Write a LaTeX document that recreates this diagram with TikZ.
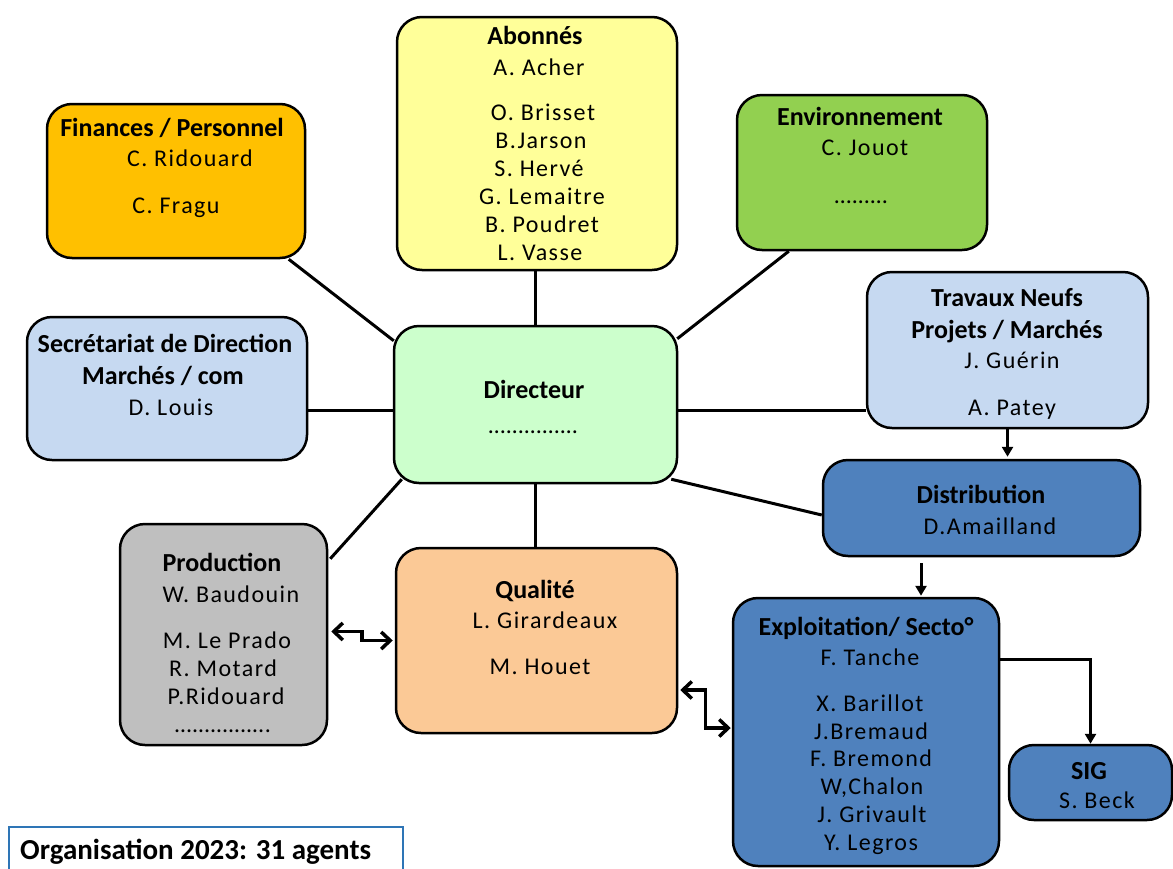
\documentclass[tikz,border=0pt]{standalone}
\usepackage{fontspec}
\setmainfont{Carlito}
\usetikzlibrary{arrows.meta,calc}
\definecolor{cOrange}{HTML}{FFC000}
\definecolor{cYellow}{HTML}{FFFF99}
\definecolor{cGreen}{HTML}{92D050}
\definecolor{cLBlue}{HTML}{C6D9F1}
\definecolor{cLGreen}{HTML}{CCFFCC}
\definecolor{cBlue}{HTML}{4F81BD}
\definecolor{cGray}{HTML}{BFBFBF}
\definecolor{cPeach}{HTML}{FBC996}
\definecolor{cOrg}{HTML}{2E75B6}
\tikzset{
  box/.style={draw=black, line width=2.5pt, rounded corners=25pt, inner sep=0pt},
  ttl/.style={font=\fontsize{26}{30}\selectfont\bfseries, text height=17pt, text depth=0pt, inner sep=0pt, anchor=center},
  nm/.style={font=\fontsize{24}{28}\selectfont\addfontfeature{LetterSpace=6}, text height=16pt, text depth=0pt, inner sep=0pt, anchor=center},
  conn/.style={line width=3pt},
  arr/.style={line width=3pt, -{Triangle[length=10pt,width=11pt]}},
  dbl/.style={line width=3.5pt, {Straight Barb[length=9pt,width=17pt]}-{Straight Barb[length=9pt,width=17pt]}},
}
\newcommand\bx[6]{\node[box,fill=#6,minimum width={#4-#2},minimum height={#5-#3}] (#1) at ({(#2+#4)/2},{(#3+#5)/2}) {};}
\begin{document}
\begin{tikzpicture}[x=1pt,y=-1pt]
\useasboundingbox (0,0) rectangle (1173,868);
\clip (0,0) rectangle (1173,868);
\fill[white] (0,0) rectangle (1173,868);
% boxes
\bx{fin}{47}{104}{305}{258}{cOrange}
\bx{abo}{397}{17}{677}{270}{cYellow}
\bx{env}{737}{95}{987}{250}{cGreen}
\bx{trav}{867}{272}{1148}{428}{cLBlue}
\bx{sec}{27}{317}{307}{460}{cLBlue}
\bx{dir}{394}{326}{677}{483}{cLGreen}
\bx{dist}{823}{460}{1140}{556}{cBlue}
\bx{prod}{120}{524}{327}{745}{cGray}
\bx{qual}{396}{548}{677}{733}{cPeach}
\bx{exp}{733}{598}{999}{866}{cBlue}
\bx{sig}{1009}{745}{1172}{820}{cBlue}
\node[draw=cOrg, line width=1.5pt, minimum width=394, minimum height=70, anchor=north west, inner sep=0pt] (org) at (8,826) {};
% texts
\node[ttl] (finT) at (172,128) {Finances / Personnel};
\node[nm] at (190,158) {C. Ridouard};
\node[nm] at (176,205) {C. Fragu};
\node[ttl] (aboT) at (535,36) {Abonnés};
\node[nm] at (539,67) {A. Acher};
\node[nm] at (543,112) {O. Brisset};
\node[nm] at (541,140) {B.Jarson};
\node[nm] at (539,168) {S. Hervé};
\node[nm] at (542,196) {G. Lemaitre};
\node[nm] at (542,224) {B. Poudret};
\node[nm] at (540,252) {L. Vasse};
\node[ttl] (envT) at (860,117) {Environnement};
\node[nm] at (865,147) {C. Jouot};
\node[nm] at (861,195) {………};
\node[ttl] (travT) at (1007,298) {Travaux Neufs};
\node[ttl] at (1007,330) {Projets / Marchés};
\node[nm] at (1012,360) {J. Guérin};
\node[nm] at (1012,407) {A. Patey};
\node[ttl] (secT) at (165,344) {Secrétariat de Direction};
\node[ttl] at (163,376) {Marchés / com};
\node[nm] at (171,407) {D. Louis};
\node[ttl] (dirT) at (534,390) {Directeur};
\node[nm] at (533,425) {……………};
\node[ttl] (distT) at (981,495) {Distribution};
\node[nm] at (990,526) {D.Amailland};
\node[ttl] (prodT) at (222,563) {Production};
\node[nm] at (231,594) {W. Baudouin};
\node[nm] at (227,640) {M. Le Prado};
\node[nm] at (223,668) {R. Motard};
\node[nm] at (226,696) {P.Ridouard};
\node[nm] at (223,724) {…………….};
\node[ttl] (qualT) at (535,590) {Qualité};
\node[nm] at (545,620) {L. Girardeaux};
\node[nm] at (540,666) {M. Houet};
\node[ttl] (expT) at (866,627) {Exploitation/ Secto°};
\node[nm] at (870,657) {F. Tanche};
\node[nm] at (870,703) {X. Barillot};
\node[nm] at (871,731) {J.Bremaud};
\node[nm] at (871,758) {F. Bremond};
\node[nm] at (872,786) {W,Chalon};
\node[nm] at (872,814) {J. Grivault};
\node[nm] at (871,842) {Y. Legros};
\node[ttl] (sigT) at (1089,771) {SIG};
\node[nm] at (1097,800) {S. Beck};
\node[ttl, font=\fontsize{29}{33}\selectfont\bfseries, anchor=west] (orgT) at (20,851) {Organisation 2023: 31 agents};
% connectors
\draw[conn] ($(dir.north west)+(1,16)$) -- ($(fin.south west)+(243,0)$);
\draw[conn] (dir.north) -- (dir.north |- abo.south);
\draw[conn] ($(dir.north east)+(-1,14)$) -- ($(env.south west)+(53,0)$);
\draw[conn] ($(dir.east)+(0,5.5)$) -- ($(trav.west)+(0,60)$);
\draw[conn] ($(dir.west)+(0,5.5)$) -- ($(sec.east)+(0,21.5)$);
\draw[conn] ($(dir.south west)+(9,-5)$) -- ($(prod.north east)+(2,36)$);
\draw[conn] (dir.south) -- (dir.south |- qual.north);
\draw[conn] ($(dir.south east)+(-7,-5)$) -- ($(dist.west)+(0,7)$);
\draw[arr] (trav.south) -- ($(trav.south |- dist.north)+(0,-2)$);
\draw[arr] ($(dist.south)+(-60.5,6)$) -- ($(exp.north)+(55,-1)$);
\draw[arr] ($(exp.north east)+(0,63)$) -| (sig.north);
\coordinate (pq1) at ($(prod.east)+(3,-3)$);
\coordinate (pq2) at ($(qual.west)+(-2,0)$);
\draw[dbl] (pq1) -| ($(pq1)!0.5!(pq2)$) |- (pq2);
\coordinate (qe1) at ($(qual.east)+(2,49.5)$);
\coordinate (qe2) at ($(exp.west)+(-1,-4)$);
\draw[dbl] (qe1) -| ($(qe1)!0.5!(qe2)$) |- (qe2);
\end{tikzpicture}
\end{document}
